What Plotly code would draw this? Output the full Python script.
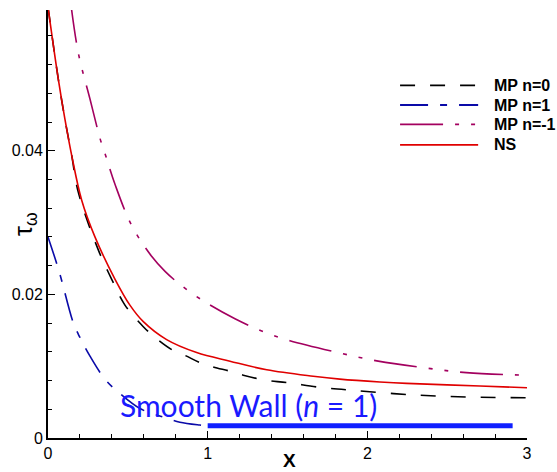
import plotly.graph_objects as go

# Wall shear stress along the wall, tau_w versus x
x_mp0 = [0.0, 0.065, 0.106, 0.148, 0.19, 0.315, 0.399, 0.482, 0.597, 0.67, 0.775, 0.858,
         0.952, 1.035, 1.14, 1.223, 1.35, 1.5, 1.724, 1.933, 2.288, 2.642, 3.0]
y_mp0 = [0.0600, 0.0499, 0.0444, 0.0394, 0.0342, 0.0262, 0.0221, 0.0185, 0.0155, 0.0140, 0.0123, 0.0115,
         0.0105, 0.0099, 0.0093, 0.00875, 0.0081, 0.0077, 0.0070, 0.0066, 0.0060, 0.0057, 0.0056]

x_mp1 = [0.0, 0.063, 0.086, 0.159, 0.2, 0.263, 0.36, 0.45, 0.576, 0.722, 0.826, 0.952, 1.0]
y_mp1 = [0.0280, 0.0237, 0.0219, 0.0160, 0.0140, 0.0114, 0.0081, 0.0062, 0.0041, 0.0029, 0.0022, 0.0018, 0.0017]

x_mpm1 = [0.14, 0.19, 0.263, 0.326, 0.353, 0.42, 0.524, 0.649, 0.733, 0.826, 0.972, 1.171,
          1.348, 1.515, 1.808, 2.068, 2.35, 2.62, 3.0]
y_mpm1 = [0.0610, 0.0536, 0.0472, 0.0417, 0.0399, 0.0353, 0.0296, 0.0253, 0.0232, 0.0214, 0.0191, 0.0166,
          0.0148, 0.01354, 0.01194, 0.0107, 0.0098, 0.0091, 0.00875]

x_ns = [0.0, 0.065, 0.106, 0.148, 0.211, 0.294, 0.42, 0.513, 0.597, 0.743, 0.931, 1.14, 1.37,
        1.661, 1.828, 2.079, 2.246, 2.705, 3.0]
y_ns = [0.0600, 0.0499, 0.0444, 0.0394, 0.0331, 0.0280, 0.0221, 0.0185, 0.0162, 0.0137, 0.0119, 0.0107, 0.0095,
        0.0086, 0.0082, 0.0078, 0.0076, 0.00725, 0.0070]

# smooth-wall reference level (n = 1)
x_smooth = [1.0, 2.91]
y_smooth = [0.0017, 0.0017]

x_ticks = [0, 1, 2, 3]
y_ticks = [0, 0.02, 0.04]
y_tick_text = ["0", "0.02", "0.04"]

series = [
    ("MP n=0", x_mp0, y_mp0, "black", "15px,15px"),
    ("MP n=1", x_mp1, y_mp1, "#0a0aa8", "28px,12px,7px,12px"),
    ("MP n=-1", x_mpm1, y_mpm1, "#a3005f", "43px,12px,4px,12px,4px,12px"),
    ("NS", x_ns, y_ns, "#e00000", "solid"),
]

fig = go.Figure()

for name, xs, ys, color, dash in series:
    fig.add_trace(go.Scatter(x=xs, y=ys, mode="lines", name=name, showlegend=False,
                             line=dict(color=color, width=1.6, dash=dash, shape="spline")))
fig.add_trace(go.Scatter(x=x_smooth, y=y_smooth, mode="lines", showlegend=False,
                         line=dict(color="#1020ff", width=5)))

# legend key: line sample plus bold label for each series
key_x0, key_x1, key_text_x = 0.735, 0.898, 0.927
key_rows = [0.824, 0.778, 0.733, 0.685]
for (name, _, _, color, dash), ky in zip(series, key_rows):
    fig.add_shape(type="line", xref="paper", yref="paper", x0=key_x0, x1=key_x1, y0=ky, y1=ky,
                  line=dict(color=color, width=1.8, dash=dash))
    fig.add_annotation(text="<b>%s</b>" % name, xref="paper", yref="paper", x=key_text_x, y=ky,
                       xanchor="left", yanchor="middle", showarrow=False,
                       font=dict(family="Liberation Sans, Arial, sans-serif", size=16, color="black"))

axis_font = dict(family="Liberation Sans, Arial, sans-serif", size=16, color="black")

fig.update_layout(
    width=557, height=472,
    margin=dict(l=48, r=30, t=10, b=26),
    plot_bgcolor="white", paper_bgcolor="white",
    showlegend=False,
    xaxis=dict(range=[0, 3], tickvals=x_ticks, ticks="inside", ticklen=7, tickwidth=1,
               tickcolor="black", showline=True, linecolor="black", linewidth=2,
               showgrid=False, zeroline=False, tickfont=axis_font,
               minor=dict(dtick=0.2, tick0=0, ticks="inside", ticklen=4, tickcolor="black",
                          showgrid=False)),
    yaxis=dict(range=[0, 0.0596], tickvals=y_ticks, ticktext=y_tick_text, ticks="inside",
               ticklen=7, tickwidth=1, tickcolor="black", showline=True, linecolor="black",
               linewidth=2, showgrid=False, zeroline=False, tickfont=axis_font,
               minor=dict(dtick=0.004, tick0=0, ticks="inside", ticklen=4, tickcolor="black",
                          showgrid=False)),
)

# axis titles
fig.add_annotation(text="<b>X</b>", xref="paper", yref="paper", x=0.504, y=0,
                   yshift=-22, showarrow=False, yanchor="middle",
                   font=dict(family="Liberation Sans, Arial, sans-serif", size=19, color="black"))
fig.add_annotation(text="τ<sub>ω</sub>", xref="paper", yref="paper", x=0, y=0.5,
                   xshift=-23, showarrow=False, textangle=-90, xanchor="center",
                   font=dict(family="Liberation Sans, Arial, sans-serif", size=25, color="black"))

# label for the smooth-wall level
fig.add_annotation(text="Smooth Wall (<i>n</i> = 1)", x=0.44, y=0.0046, xanchor="left",
                   yanchor="middle", showarrow=False,
                   font=dict(family="Lato, sans-serif", size=30, color="#1a1aff"))

fig.write_html("out.html")
